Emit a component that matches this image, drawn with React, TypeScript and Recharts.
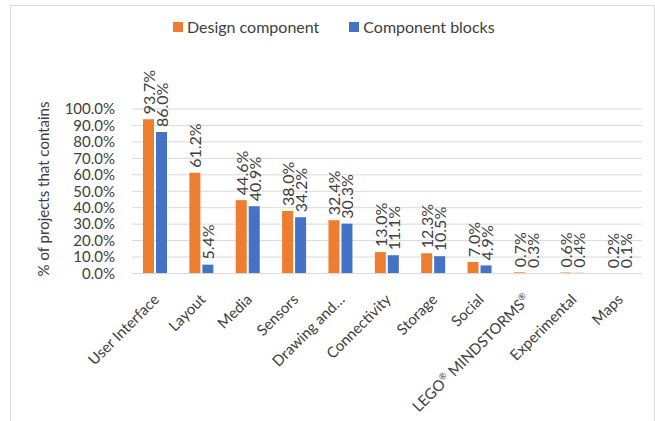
import React from "react";
import { BarChart, Bar, XAxis, YAxis, CartesianGrid, Legend, LabelList, Label } from "recharts";

const categories = [
  "User Interface",
  "Layout",
  "Media",
  "Sensors",
  "Drawing and…",
  "Connectivity",
  "Storage",
  "Social",
  "LEGO® MINDSTORMS®",
  "Experimental",
  "Maps",
];

const designComponent = [93.7, 61.2, 44.6, 38.0, 32.4, 13.0, 12.3, 7.0, 0.7, 0.6, 0.2];
const componentBlocks = [86.0, 5.4, 40.9, 34.2, 30.3, 11.1, 10.5, 4.9, 0.3, 0.4, 0.1];

const yTicks = [0, 10, 20, 30, 40, 50, 60, 70, 80, 90, 100];

const ORANGE = "#ED7D31";
const BLUE = "#4472C4";
const TEXT = "#404040";
const FONT = "Lato, 'Noto Sans', sans-serif";

const data = categories.map((name, i) => ({
  name,
  design: designComponent[i],
  blocks: componentBlocks[i],
}));

const fmt = (v: number) => `${v.toFixed(1)}%`;

function ValueLabel(props: any) {
  const { x, y, width, value } = props;
  const cx = x + width / 2;
  const ly = y - 5;
  return (
    <text
      x={cx}
      y={ly}
      transform={`rotate(-90, ${cx}, ${ly})`}
      textAnchor="start"
      dominantBaseline="central"
      fontSize={16}
      fontFamily={FONT}
      fill={TEXT}
    >
      {fmt(value)}
    </text>
  );
}

// splits "®" out so it can be drawn as a small superscript like in the source
function withSuperscripts(s: string) {
  return s.split(/(®)/).map((part, i) =>
    part === "®" ? (
      <tspan key={i} fontSize={9} dy={-6}>
        ®
      </tspan>
    ) : (
      <tspan key={i} dy={i > 0 ? 6 : 0}>
        {part}
      </tspan>
    )
  );
}

function CategoryTick(props: any) {
  const { x, y, payload } = props;
  return (
    <g transform={`translate(${x + 5},${y + 19})`}>
      <text
        x={0}
        y={0}
        textAnchor="end"
        transform="rotate(-45)"
        fontSize={15}
        fontFamily={FONT}
        fill={TEXT}
      >
        {withSuperscripts(payload.value)}
      </text>
    </g>
  );
}

function LegendContent() {
  const item = (color: string, text: string) => (
    <div style={{ display: "flex", alignItems: "center" }}>
      <span style={{ width: 10, height: 10, background: color, marginRight: 4 }} />
      <span>{text}</span>
    </div>
  );
  return (
    <div
      style={{
        display: "flex",
        gap: 30,
        marginLeft: 173,
        fontFamily: FONT,
        fontSize: 16,
        color: TEXT,
        lineHeight: "20px",
      }}
    >
      {item(ORANGE, "Design component")}
      {item(BLUE, "Component blocks")}
    </div>
  );
}

export default function App() {
  return (
    <div
      style={{
        position: "absolute",
        left: 0,
        top: 0,
        width: 655,
        height: 421,
        overflow: "hidden",
        background: "#fff",
      }}
    >
      <div
        style={{
          position: "absolute",
          left: 10,
          top: 5,
          width: 643,
          height: 440,
          border: "1px solid #d9d9d9",
        }}
      />
      <BarChart
        width={655}
        height={421}
        data={data}
        margin={{ top: 89, right: 13, bottom: 0, left: 0 }}
        barSize={11}
        barGap={2}
        style={{ position: "absolute", left: 0, top: 0 }}
      >
        <CartesianGrid vertical={false} stroke="#d9d9d9" />
        <Legend
          verticalAlign="top"
          align="left"
          content={<LegendContent />}
          wrapperStyle={{ top: 17, left: 0, width: 655 }}
        />
        <XAxis
          dataKey="name"
          interval={0}
          height={147.5}
          axisLine={{ stroke: "#d9d9d9" }}
          tickLine={false}
          tick={<CategoryTick />}
        />
        <YAxis
          width={132}
          domain={[0, 100]}
          ticks={yTicks}
          interval={0}
          tickFormatter={fmt}
          axisLine={false}
          tickLine={false}
          tickSize={6}
          tickMargin={11}
          tick={{ fontSize: 15, fontFamily: FONT, fill: TEXT }}
        >
          <Label
            content={() => (
              <text
                transform="translate(43,189) rotate(-90)"
                textAnchor="middle"
                dominantBaseline="central"
                fontSize={15}
                fontFamily={FONT}
                fill={TEXT}
              >
                % of projects that contains
              </text>
            )}
          />
        </YAxis>
        <Bar dataKey="design" name="Design component" fill={ORANGE} isAnimationActive={false}>
          <LabelList dataKey="design" content={<ValueLabel />} />
        </Bar>
        <Bar dataKey="blocks" name="Component blocks" fill={BLUE} isAnimationActive={false}>
          <LabelList dataKey="blocks" content={<ValueLabel />} />
        </Bar>
      </BarChart>
    </div>
  );
}
